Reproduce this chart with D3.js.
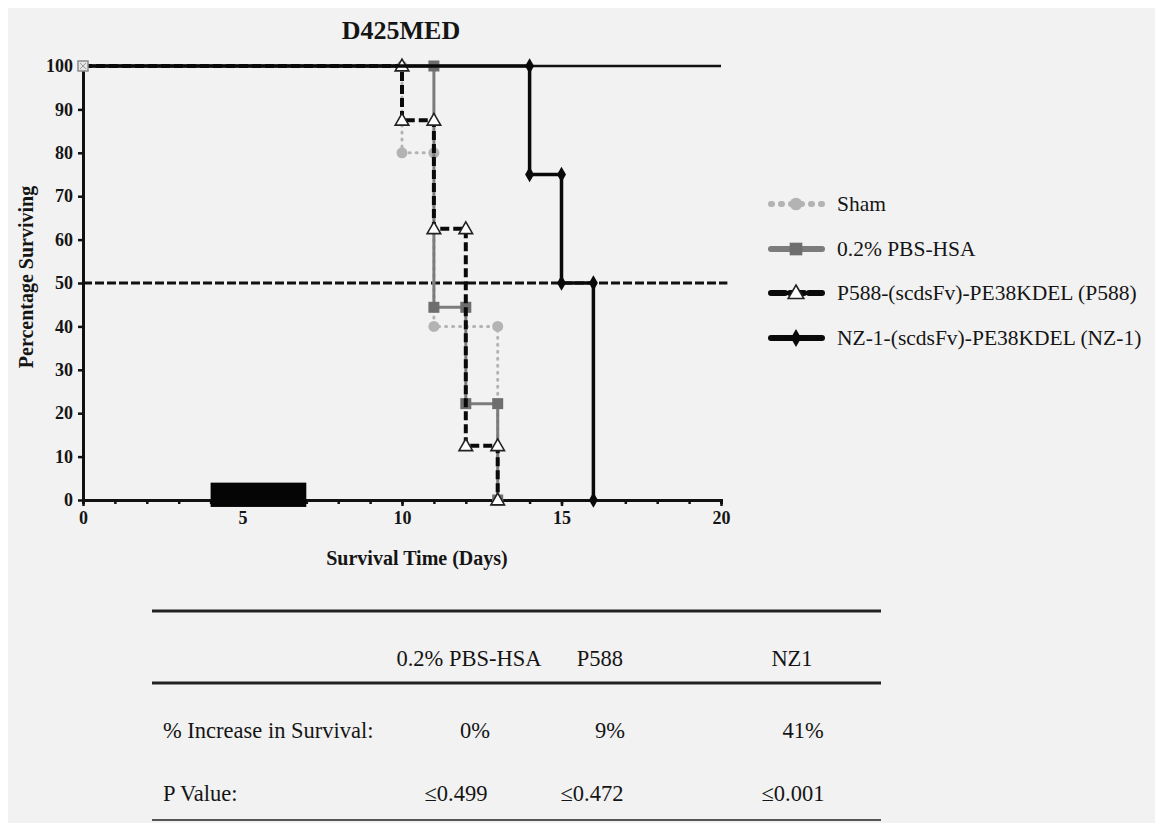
<!DOCTYPE html>
<html>
<head>
<meta charset="utf-8">
<script src="https://cdn.jsdelivr.net/npm/d3@7"></script>
<style>
  html, body { margin: 0; padding: 0; background: #ffffff; }
  svg { display: block; }
  text { font-family: "Liberation Serif", "Times New Roman", serif; fill: #151515; }
</style>
</head>
<body>
<svg id="chart" width="1155" height="823"></svg>
<script>
// Kaplan–Meier survival, D425MED xenografts
const title = "D425MED";
const xLabel = "Survival Time (Days)";
const yLabel = "Percentage Surviving";

const seriesNames = ["Sham", "0.2% PBS-HSA", "P588-(scdsFv)-PE38KDEL (P588)", "NZ-1-(scdsFv)-PE38KDEL (NZ-1)"];

// event days and surviving fraction (%) after each event
const shamDays = [0, 10, 11, 13];
const shamSurv = [100, 80, 40, 0];
const pbsDays = [0, 11, 12, 13];
const pbsSurv = [100, 44.4, 22.2, 0];
const p588Days = [0, 10, 11, 12, 13];
const p588Surv = [100, 87.5, 62.5, 12.5, 0];
const nz1Days = [0, 14, 15, 16];
const nz1Surv = [100, 75, 50, 0];

const xTicks = [0, 5, 10, 15, 20];
const xMinorTicks = d3.range(0, 21, 1);
const yTicks = [0, 10, 20, 30, 40, 50, 60, 70, 80, 90, 100];
const referenceLevels = [100, 50];
const treatmentWindow = [4, 7];   // dosing period, days
const treatmentHeight = [-1.6, 4];

// summary table
const tableColumns = ["0.2% PBS-HSA", "P588", "NZ1"];
const tableRowLabels = ["% Increase in Survival:", "P Value:"];
const increaseInSurvival = ["0%", "9%", "41%"];
const pValues = ["\u22640.499", "\u22640.472", "\u22640.001"];

const svg = d3.select("#chart");
svg.append("rect").attr("x", 8).attr("y", 8).attr("width", 1147).attr("height", 815).attr("fill", "#f2f2f2");

const x = d3.scaleLinear().domain([0, 20]).range([83, 721]);
const y = d3.scaleLinear().domain([0, 100]).range([500, 66]);

// title and axis titles
svg.append("text").attr("x", 401).attr("y", 39).attr("text-anchor", "middle")
  .attr("font-size", 26).attr("font-weight", "bold").text(title);
svg.append("text").attr("x", 417).attr("y", 565).attr("text-anchor", "middle")
  .attr("font-size", 20).attr("font-weight", "bold").text(xLabel);
svg.append("text").attr("transform", "translate(33,277) rotate(-90)").attr("text-anchor", "middle")
  .attr("font-size", 20).attr("font-weight", "bold").text(yLabel);

// axes
const yAxis = svg.append("g").attr("transform", `translate(${x(0)},0)`)
  .call(d3.axisLeft(y).tickValues(yTicks).tickSize(5).tickPadding(5).tickSizeOuter(0));
yAxis.select(".domain").attr("stroke", "#111").attr("stroke-width", 3);
yAxis.selectAll(".tick line").attr("stroke", "#111").attr("stroke-width", 2.5);
yAxis.selectAll(".tick text").attr("font-size", 18).attr("font-weight", "bold")
  .attr("font-family", "Liberation Serif, serif").attr("fill", "#151515");

const xMinor = svg.append("g").attr("transform", `translate(0,${y(0)})`)
  .call(d3.axisBottom(x).tickValues(xMinorTicks).tickSize(4).tickFormat(""));
xMinor.select(".domain").attr("stroke", "#111").attr("stroke-width", 3);
xMinor.selectAll(".tick line").attr("stroke", "#111").attr("stroke-width", 2.5);
const xAxis = svg.append("g").attr("transform", `translate(0,${y(0)})`)
  .call(d3.axisBottom(x).tickValues(xTicks).tickSize(6).tickPadding(5).tickSizeOuter(0));
xAxis.select(".domain").remove();
xAxis.selectAll(".tick line").attr("stroke", "#111").attr("stroke-width", 2.5);
xAxis.selectAll(".tick text").attr("font-size", 18).attr("font-weight", "bold")
  .attr("font-family", "Liberation Serif, serif").attr("fill", "#151515");

// reference lines at 100% and median (50%)
svg.append("line").attr("x1", x(0)).attr("x2", x(20)).attr("y1", y(referenceLevels[0])).attr("y2", y(referenceLevels[0]))
  .attr("stroke", "#111").attr("stroke-width", 2.5);
svg.append("line").attr("x1", x(0)).attr("x2", x(20.2)).attr("y1", y(referenceLevels[1])).attr("y2", y(referenceLevels[1]))
  .attr("stroke", "#111").attr("stroke-width", 3).attr("stroke-dasharray", "9,3");

// treatment bar
svg.append("rect").attr("x", x(treatmentWindow[0])).attr("width", x(treatmentWindow[1]) - x(treatmentWindow[0]))
  .attr("y", y(treatmentHeight[1])).attr("height", y(treatmentHeight[0]) - y(treatmentHeight[1]))
  .attr("fill", "#050505");

// step vertices of a survival curve
function stepPoints(days, surv) {
  const pts = [[days[0], surv[0]]];
  for (let i = 1; i < days.length; i++) {
    pts.push([days[i], surv[i - 1]]);
    pts.push([days[i], surv[i]]);
  }
  return pts;
}

const styles = [
  { days: shamDays, surv: shamSurv, color: "#b3b3b3", width: 3, dash: "1,6", cap: "round", marker: "circle", mfill: "#b3b3b3", mstroke: "#b3b3b3", startMarker: true },
  { days: pbsDays, surv: pbsSurv, color: "#7c7c7c", width: 3, dash: null, cap: "butt", marker: "square", mfill: "#6e6e6e", mstroke: "#6e6e6e", startMarker: true },
  { days: p588Days, surv: p588Surv, color: "#0a0a0a", width: 4, dash: "9,4", cap: "butt", marker: "triangle", mfill: "#ffffff", mstroke: "#222", startMarker: false },
  { days: nz1Days, surv: nz1Surv, color: "#0a0a0a", width: 3.5, dash: null, cap: "butt", marker: "diamond", mfill: "#0a0a0a", mstroke: "#0a0a0a", startMarker: false }
];

const line = d3.line().x(d => x(d[0])).y(d => y(d[1]));

function drawMarker(g, type, cx, cy, fill, stroke, scale) {
  const s = scale || 1;
  if (type === "circle") {
    g.append("circle").attr("cx", cx).attr("cy", cy).attr("r", 5.5 * s).attr("fill", fill);
  } else if (type === "square") {
    g.append("rect").attr("x", cx - 5.5 * s).attr("y", cy - 5.5 * s).attr("width", 11 * s).attr("height", 11 * s).attr("fill", fill);
  } else if (type === "triangle") {
    g.append("path").attr("d", d3.symbol(d3.symbolTriangle, 80 * s * s)()).attr("transform", `translate(${cx},${cy + 1})`)
      .attr("fill", fill).attr("stroke", stroke).attr("stroke-width", 1.6);
  } else {
    g.append("path").attr("d", d3.symbol(d3.symbolDiamond, 70 * s * s)()).attr("transform", `translate(${cx},${cy})`)
      .attr("fill", fill);
  }
}

// marker shown at the shared starting point (day 0, 100%)
function drawStartMarker(g, cx, cy) {
  g.append("rect").attr("x", cx - 5).attr("y", cy - 5).attr("width", 10).attr("height", 10)
    .attr("fill", "#e6e6e6").attr("stroke", "#8a8a8a").attr("stroke-width", 1.5);
  g.append("path").attr("d", `M${cx - 3},${cy - 3}L${cx + 3},${cy + 3}M${cx + 3},${cy - 3}L${cx - 3},${cy + 3}`)
    .attr("stroke", "#9a9a9a").attr("stroke-width", 1);
}

styles.forEach(st => {
  const pts = stepPoints(st.days, st.surv);
  const g = svg.append("g");
  g.append("path").datum(pts).attr("d", line).attr("fill", "none")
    .attr("stroke", st.color).attr("stroke-width", st.width)
    .attr("stroke-dasharray", st.dash).attr("stroke-linecap", st.cap);
  pts.slice(1).forEach(p => drawMarker(g, st.marker, x(p[0]), y(p[1]), st.mfill, st.mstroke, 1));
});
drawStartMarker(svg.append("g"), x(shamDays[0]), y(shamSurv[0]));

// legend
const legendY = [204, 249, 293, 338];
styles.forEach((st, i) => {
  const g = svg.append("g");
  g.append("line").attr("x1", 771).attr("x2", 822).attr("y1", legendY[i]).attr("y2", legendY[i])
    .attr("stroke", st.color).attr("stroke-width", 6)
    .attr("stroke-dasharray", st.marker === "circle" ? "1,9" : (st.marker === "triangle" ? "14,5" : null))
    .attr("stroke-linecap", "round");
  drawMarker(g, st.marker, 796, legendY[i], st.mfill, st.mstroke, 1.15);
  g.append("text").attr("x", 837).attr("y", legendY[i] + 7).attr("font-size", 21.5).text(seriesNames[i]);
});

// summary table
const ruleX = [152, 881];
[[611, "#222", 3], [683, "#222", 3], [820, "#555", 2]].forEach(r => {
  svg.append("line").attr("x1", ruleX[0]).attr("x2", ruleX[1]).attr("y1", r[0]).attr("y2", r[0])
    .attr("stroke", r[1]).attr("stroke-width", r[2]);
});
const colX = [469, 600, 792];
tableColumns.forEach((c, i) => {
  svg.append("text").attr("x", colX[i]).attr("y", 666).attr("text-anchor", "middle").attr("font-size", 22.5).text(c);
});
const valX = [475, 610, 803];
svg.append("text").attr("x", 163).attr("y", 738).attr("font-size", 22.5).text(tableRowLabels[0]);
svg.append("text").attr("x", 163).attr("y", 801).attr("font-size", 22.5).text(tableRowLabels[1]);
increaseInSurvival.forEach((v, i) => {
  svg.append("text").attr("x", valX[i]).attr("y", 738).attr("text-anchor", "middle").attr("font-size", 22.5).text(v);
});
const pX = [456, 592, 793];
pValues.forEach((v, i) => {
  svg.append("text").attr("x", pX[i]).attr("y", 801).attr("text-anchor", "middle").attr("font-size", 22.5).text(v);
});
</script>
</body>
</html>
